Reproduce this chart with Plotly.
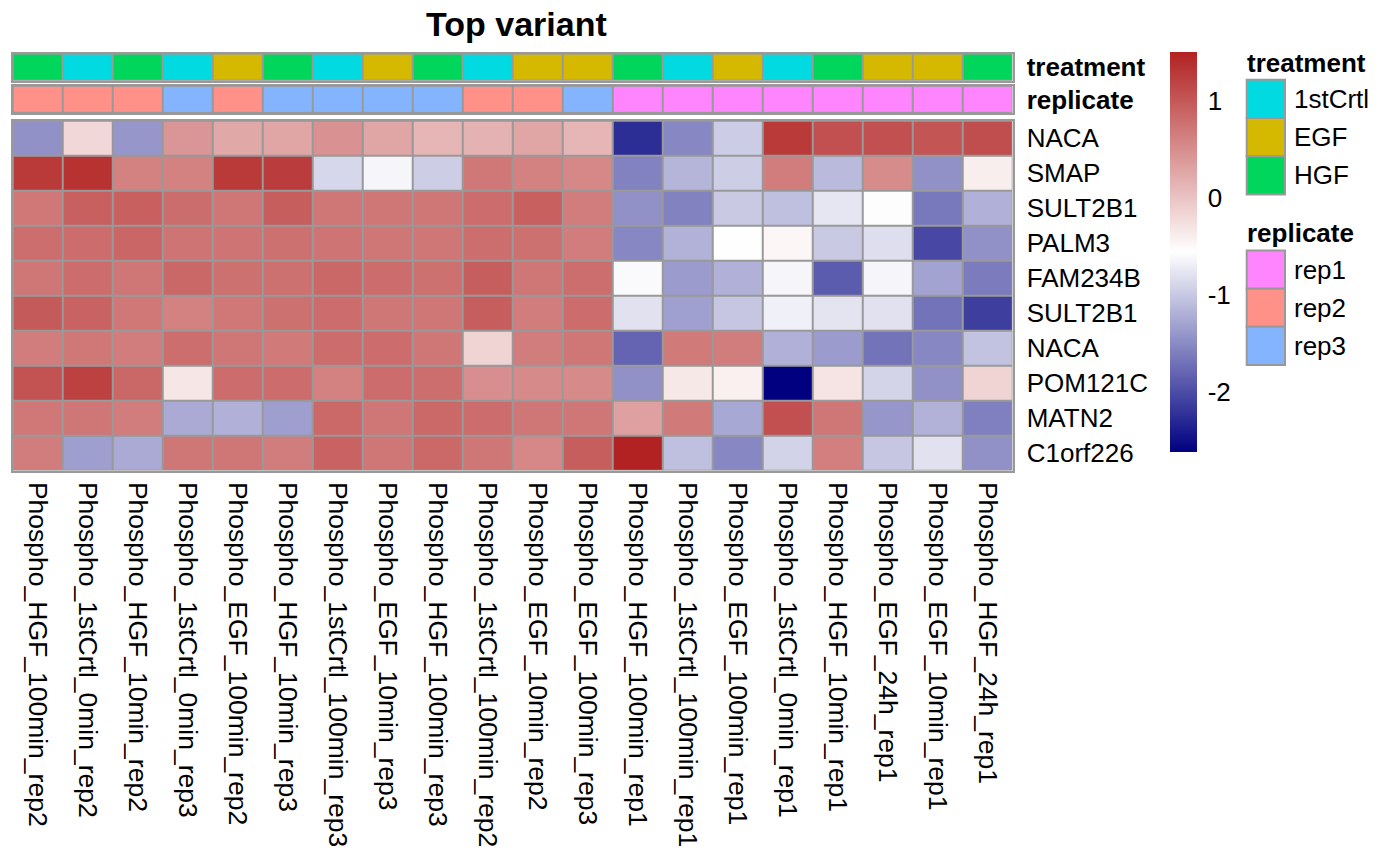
import plotly.graph_objects as go

# ---------------- data ----------------
samples = [
    "Phospho_HGF_100min_rep2", "Phospho_1stCrtl_0min_rep2", "Phospho_HGF_10min_rep2",
    "Phospho_1stCrtl_0min_rep3", "Phospho_EGF_100min_rep2", "Phospho_HGF_10min_rep3",
    "Phospho_1stCrtl_100min_rep3", "Phospho_EGF_10min_rep3", "Phospho_HGF_100min_rep3",
    "Phospho_1stCrtl_100min_rep2", "Phospho_EGF_10min_rep2", "Phospho_EGF_100min_rep3",
    "Phospho_HGF_100min_rep1", "Phospho_1stCrtl_100min_rep1", "Phospho_EGF_100min_rep1",
    "Phospho_1stCrtl_0min_rep1", "Phospho_HGF_10min_rep1", "Phospho_EGF_24h_rep1",
    "Phospho_EGF_10min_rep1", "Phospho_HGF_24h_rep1",
]
genes = ["NACA", "SMAP", "SULT2B1", "PALM3", "FAM234B", "SULT2B1", "NACA",
         "POM121C", "MATN2", "C1orf226"]

treatment = ["HGF", "1stCrtl", "HGF", "1stCrtl", "EGF", "HGF", "1stCrtl", "EGF", "HGF", "1stCrtl",
             "EGF", "EGF", "HGF", "1stCrtl", "EGF", "1stCrtl", "HGF", "EGF", "EGF", "HGF"]
replicate = ["rep2", "rep2", "rep2", "rep3", "rep2", "rep3", "rep3", "rep3", "rep3", "rep2",
             "rep2", "rep3", "rep1", "rep1", "rep1", "rep1", "rep1", "rep1", "rep1", "rep1"]

treatment_levels = ["1stCrtl", "EGF", "HGF"]
treatment_colors = ["#00DAE0", "#D4B900", "#00D65C"]
replicate_levels = ["rep1", "rep2", "rep3"]
replicate_colors = ["#FF85FF", "#FF9188", "#85B4FF"]

values = [
    [-1.45, -0.19, -1.41, 0.42, 0.25, 0.28, 0.47, 0.28, 0.12, 0.16, 0.28, 0.12, -2.26, -1.53, -0.97, 1.28, 1.07, 1.07, 1.02, 1.09],
    [1.28, 1.35, 0.61, 0.61, 1.28, 1.26, -0.88, -0.64, -0.96, 0.70, 0.61, 0.55, -1.57, -1.16, -0.96, 0.65, -1.12, 0.51, -1.45, -0.40],
    [0.70, 0.92, 0.92, 0.80, 0.72, 0.94, 0.72, 0.72, 0.72, 0.81, 0.92, 0.65, -1.45, -1.57, -1.00, -1.08, -0.76, -0.58, -1.65, -1.20],
    [0.79, 0.81, 0.87, 0.74, 0.74, 0.77, 0.74, 0.72, 0.72, 0.79, 0.77, 0.65, -1.53, -1.18, -0.55, -0.48, -1.00, -0.83, -2.04, -1.45],
    [0.72, 0.81, 0.72, 0.85, 0.77, 0.77, 0.85, 0.81, 0.77, 0.94, 0.72, 0.79, -0.60, -1.37, -1.20, -0.64, -1.88, -0.64, -1.30, -1.63],
    [0.98, 0.89, 0.70, 0.61, 0.70, 0.77, 0.81, 0.72, 0.72, 0.94, 0.65, 0.81, -0.80, -1.33, -1.02, -0.68, -0.78, -0.80, -1.69, -2.12],
    [0.65, 0.70, 0.65, 0.79, 0.72, 0.68, 0.81, 0.81, 0.72, -0.16, 0.65, 0.72, -1.81, 0.68, 0.65, -1.20, -1.37, -1.69, -1.53, -1.05],
    [1.05, 1.21, 0.85, -0.33, 0.81, 0.81, 0.61, 0.81, 0.79, 0.49, 0.53, 0.53, -1.45, -0.35, -0.42, -2.62, -0.31, -0.91, -1.45, -0.16],
    [0.70, 0.72, 0.65, -1.25, -1.20, -1.34, 0.84, 0.72, 0.84, 0.81, 0.72, 0.72, 0.33, 0.68, -1.26, 1.07, 0.72, -1.41, -1.18, -1.59],
    [0.65, -1.34, -1.25, 0.72, 0.72, 0.65, 0.89, 0.72, 0.84, 0.72, 0.55, 0.94, 1.50, -1.08, -1.53, -0.92, 0.63, -1.02, -0.80, -1.45],
]
cbar_ticks = [-2, -1, 0, 1]

# ---------------- layout helpers ----------------
W, H = 1400, 865
FONT = "Liberation Sans, Arial, Helvetica, sans-serif"
GRID = "#999999"


def px(x):
    return x / W


def py(y):
    return 1 - y / H


def discrete_scale(colors):
    n = len(colors)
    sc = []
    for i, c in enumerate(colors):
        sc.append([i / n, c])
        sc.append([(i + 1) / n, c])
    return sc


ncol, nrow = len(samples), len(genes)
xs = list(range(ncol))
zmin = min(min(r) for r in values)
zmax = max(max(r) for r in values)

x_dom = [px(12.7), px(1012.5)]
heat_dom = [py(470.7), py(120)]
rep_dom = [py(112.3), py(85)]
trt_dom = [py(80), py(52.7)]

fig = go.Figure()

# main heatmap
fig.add_trace(go.Heatmap(
    z=values, x=xs, y=list(range(nrow)),
    colorscale=[[0, "#000080"], [0.5, "#FFFFFF"], [1, "#B22222"]],
    zmin=zmin, zmax=zmax, xgap=2, ygap=2,
    xaxis="x", yaxis="y", hoverinfo="skip",
    colorbar=dict(
        x=px(1170), xanchor="left", xpad=0,
        y=py(51), yanchor="top", ypad=0,
        thickness=27, thicknessmode="pixels",
        len=400, lenmode="pixels",
        outlinewidth=0,
        tickvals=cbar_ticks, ticktext=[str(t) for t in cbar_ticks],
        ticks="outside", ticklen=6, tickcolor="rgba(0,0,0,0)",
        tickfont=dict(family=FONT, size=26, color="black"),
    ),
))

# replicate annotation bar
fig.add_trace(go.Heatmap(
    z=[[replicate_levels.index(r) + 0.5 for r in replicate]], x=xs, y=[0],
    colorscale=discrete_scale(replicate_colors), zmin=0, zmax=len(replicate_levels),
    showscale=False, xgap=2, ygap=2, xaxis="x2", yaxis="y2", hoverinfo="skip",
))

# treatment annotation bar
fig.add_trace(go.Heatmap(
    z=[[treatment_levels.index(t) + 0.5 for t in treatment]], x=xs, y=[0],
    colorscale=discrete_scale(treatment_colors), zmin=0, zmax=len(treatment_levels),
    showscale=False, xgap=2, ygap=2, xaxis="x3", yaxis="y3", hoverinfo="skip",
))

axis_common = dict(showgrid=False, zeroline=False, showline=True, mirror=True,
                   linecolor=GRID, linewidth=2)
tickfont = dict(family=FONT, size=26, color="black")

fig.update_layout(
    width=W, height=H, autosize=False,
    margin=dict(l=0, r=0, t=0, b=0),
    paper_bgcolor="white", plot_bgcolor=GRID,
    showlegend=False,
    xaxis=dict(domain=x_dom, anchor="y", range=[-0.5, ncol - 0.5],
               tickvals=xs, ticktext=samples, tickangle=90,
               ticks="outside", ticklen=4, tickcolor="rgba(0,0,0,0)",
               tickfont=dict(family=FONT, size=26.5, color="black"), **axis_common),
    yaxis=dict(domain=heat_dom, anchor="x", range=[nrow - 0.5, -0.5], side="right",
               tickvals=list(range(nrow)), ticktext=genes,
               ticks="outside", ticklen=7, tickcolor="rgba(0,0,0,0)",
               tickfont=tickfont, **axis_common),
    xaxis2=dict(domain=x_dom, anchor="y2", range=[-0.5, ncol - 0.5], showticklabels=False,
                **axis_common),
    yaxis2=dict(domain=rep_dom, anchor="x2", range=[-0.5, 0.5], side="right",
                tickvals=[0], ticktext=["<b>replicate</b>"],
                ticks="outside", ticklen=7, tickcolor="rgba(0,0,0,0)",
                tickfont=tickfont, **axis_common),
    xaxis3=dict(domain=x_dom, anchor="y3", range=[-0.5, ncol - 0.5], showticklabels=False,
                **axis_common),
    yaxis3=dict(domain=trt_dom, anchor="x3", range=[-0.5, 0.5], side="right",
                tickvals=[0], ticktext=["<b>treatment</b>"],
                ticks="outside", ticklen=7, tickcolor="rgba(0,0,0,0)",
                tickfont=tickfont, **axis_common),
)

annotations = [dict(
    text="<b>Top variant</b>", x=px(516), y=py(23), xref="paper", yref="paper",
    xanchor="center", yanchor="middle", showarrow=False,
    font=dict(family=FONT, size=34, color="black"),
)]
shapes = []

# annotation legends
BOX_X0, BOX_X1, BOX_H = 1246.7, 1285.0, 38.3
LABEL_X = 1292
for title, levels, colors, title_y, top in [
    ("treatment", treatment_levels, treatment_colors, 62, 79.0),
    ("replicate", replicate_levels, replicate_colors, 233, 250.0),
]:
    annotations.append(dict(
        text=f"<b>{title}</b>", x=px(BOX_X0 - 2), y=py(title_y), xref="paper", yref="paper",
        xanchor="left", yanchor="middle", showarrow=False,
        font=dict(family=FONT, size=26, color="black"),
    ))
    for i, (lev, col) in enumerate(zip(levels, colors)):
        y0 = top + i * BOX_H
        shapes.append(dict(
            type="rect", xref="paper", yref="paper",
            x0=px(BOX_X0), x1=px(BOX_X1), y0=py(y0 + BOX_H), y1=py(y0),
            fillcolor=col, line=dict(color=GRID, width=2),
        ))
        annotations.append(dict(
            text=lev, x=px(LABEL_X), y=py(y0 + BOX_H / 2), xref="paper", yref="paper",
            xanchor="left", yanchor="middle", showarrow=False,
            font=dict(family=FONT, size=26, color="black"),
        ))

fig.update_layout(annotations=annotations, shapes=shapes)
fig.write_html("out.html", config={"displayModeBar": False},
               post_script="document.body.style.margin='0';")
